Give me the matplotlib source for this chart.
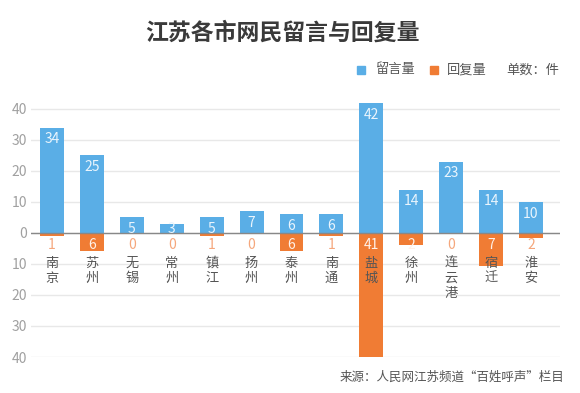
import matplotlib
matplotlib.use("Agg")
import matplotlib.pyplot as plt
from matplotlib.patches import Rectangle
import numpy as np

plt.rcParams['font.family'] = ['Noto Sans CJK SC', 'DejaVu Sans']

cities = ['南京', '苏州', '无锡', '常州', '镇江', '扬州', '泰州',
          '南通', '盐城', '徐州', '连云港', '宿迁', '淮安']
messages = [34, 25, 5, 3, 5, 7, 6, 6, 42, 14, 23, 14, 10]
replies = [1, 6, 0, 0, 1, 0, 6, 1, 41, 2, 0, 7, 2]
# bar lengths as drawn in the source picture (not always equal to the labels)
reply_bars = [1, 5.8, 0, 0, 1, 0, 5.8, 1, 41, 4, 0, 10.6, 1.6]
y_ticks = [-40, -30, -20, -10, 0, 10, 20, 30, 40]

BLUE = '#5aaee6'
ORANGE = '#f07c34'
LIGHT_ORANGE = '#f5a77c'

fig = plt.figure(figsize=(5.8, 3.93), dpi=100)
ax = fig.add_axes([0.0534, 0.0916, 0.9121, 0.651])

x = np.arange(len(cities))
ax.bar(x, messages, width=0.6, color=BLUE, zorder=2)
ax.bar(x, [-v for v in reply_bars], width=0.6, color=ORANGE, zorder=2)

ax.set_xlim(-0.53, 12.73)
ax.set_ylim(-40, 42.5)
ax.axhline(0, color='#888888', lw=1.0, zorder=3)
ax.set_yticks(y_ticks)
ax.set_yticklabels([str(abs(t)) for t in y_ticks])
ax.tick_params(axis='y', length=0, labelsize=10, labelcolor='#a0a0a0', pad=3)
ax.set_xticks([])
ax.grid(axis='y', color='#e8e8e8', lw=1.0, zorder=0)
for s in ax.spines.values():
    s.set_visible(False)

for i, (m, r, rb) in enumerate(zip(messages, replies, reply_bars)):
    ax.annotate(str(m), (i, max(m, 5)), xytext=(0, -8.5), textcoords='offset points',
                ha='center', va='center', color='#eaf5fd', fontsize=10, zorder=4)
    inside = rb >= 4
    ax.annotate(str(r), (i, 0), xytext=(0, -8.5), textcoords='offset points',
                ha='center', va='center', fontsize=10, zorder=4,
                color='#fff1e8' if inside else LIGHT_ORANGE)
    ax.annotate('\n'.join(cities[i]), (i, 0), xytext=(0, -17), textcoords='offset points',
                ha='center', va='top', fontsize=9.5, color='#555555',
                linespacing=1.2, zorder=5)

fig.text(0.487, 0.915, '江苏各市网民留言与回复量', ha='center', va='center',
         fontsize=16.5, fontweight='bold', color='#3a3a3a')

# legend
fig.patches.append(Rectangle((357 / 580, 1 - 74 / 393), 8 / 580, 8 / 393,
                             transform=fig.transFigure, color=BLUE, figure=fig))
fig.text(376 / 580, 1 - 70 / 393, '留言量', ha='left', va='center', fontsize=9.5, color='#555555')
fig.patches.append(Rectangle((430 / 580, 1 - 74 / 393), 8 / 580, 8 / 393,
                             transform=fig.transFigure, color=ORANGE, figure=fig))
fig.text(447 / 580, 1 - 70 / 393, '回复量', ha='left', va='center', fontsize=9.5, color='#555555')
fig.text(559 / 580, 1 - 70 / 393, '单数：件', ha='right', va='center', fontsize=9.5, color='#555555')

fig.text(564 / 580, 1 - 377 / 393, '来源：人民网江苏频道“百姓呼声”栏目', ha='right', va='center',
         fontsize=9, color='#555555')

fig.savefig('out.png', dpi=100)
